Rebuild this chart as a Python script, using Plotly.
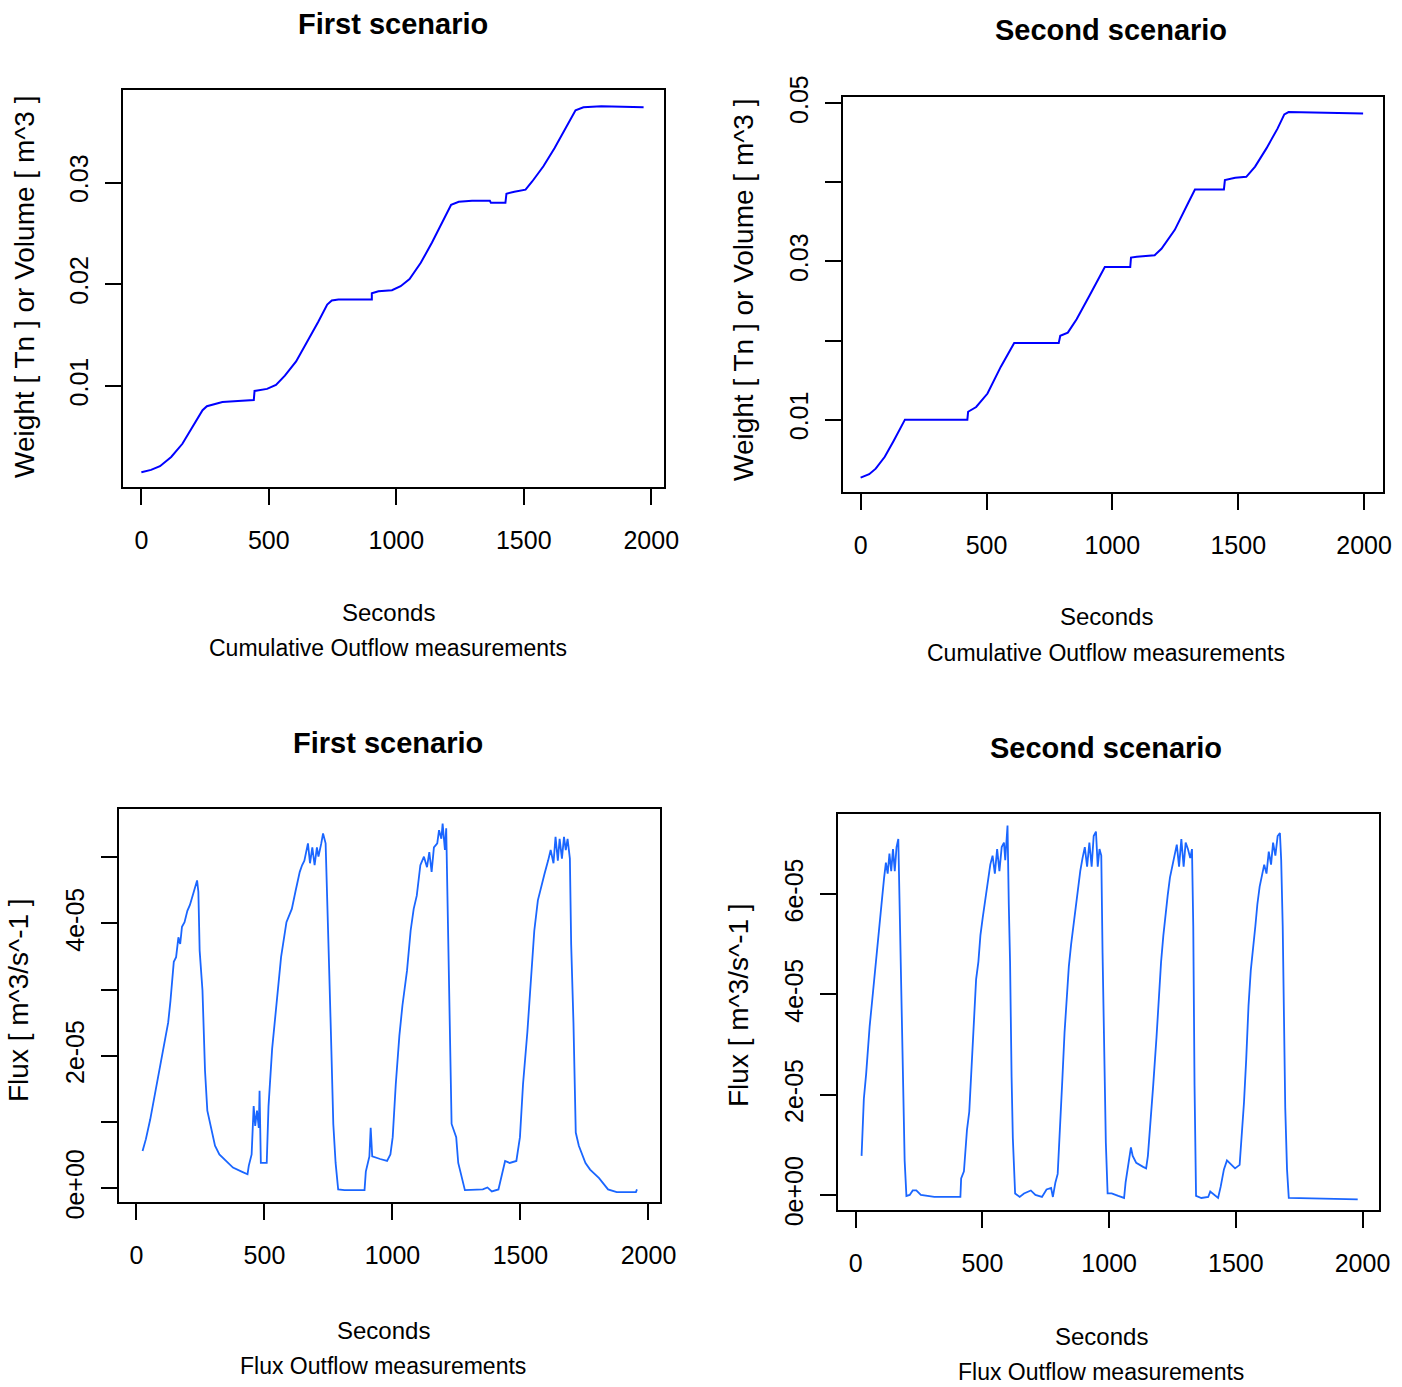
import plotly.graph_objects as go

# ---------------- data ----------------
# Panel 1: First scenario, cumulative outflow
cum1_t = [0, 38, 73, 117, 161, 204, 240, 257, 283, 318, 379, 441, 444, 493, 528, 563, 607, 650, 694,
          729, 747, 773, 904, 904, 930, 983, 1017, 1052, 1096, 1140, 1184, 1215, 1245, 1297, 1367, 1371,
          1428, 1432, 1463, 1507, 1533, 1577, 1621, 1664, 1703, 1734, 1804, 1970]
cum1_v = [0.0015, 0.00173, 0.0021, 0.0030, 0.0043, 0.0061, 0.0076, 0.0080, 0.0082, 0.0084, 0.0085,
          0.0086, 0.0095, 0.0097, 0.0101, 0.0110, 0.0124, 0.0143, 0.0163, 0.0180, 0.0184, 0.0185,
          0.0185, 0.0191, 0.0193, 0.0194, 0.0198, 0.0205, 0.0221, 0.0241, 0.0263, 0.0278, 0.0281,
          0.0282, 0.0282, 0.0280, 0.0280, 0.0289, 0.0291, 0.0293, 0.0301, 0.0316, 0.0334, 0.0354,
          0.0371, 0.0374, 0.0375, 0.0374]

# Panel 2: Second scenario, cumulative outflow
cum2_t = [0, 34, 60, 96, 131, 167, 176, 424, 427, 459, 504, 557, 610, 787, 793, 823, 858, 911, 970,
          1071, 1074, 1097, 1168, 1195, 1248, 1301, 1328, 1443, 1447, 1488, 1532, 1567, 1612, 1656,
          1683, 1700, 1996]
cum2_v = [0.00267, 0.0031, 0.0038, 0.0053, 0.0073, 0.0096, 0.0100, 0.0100, 0.0110, 0.0116, 0.0133,
          0.0167, 0.0197, 0.0197, 0.0206, 0.0210, 0.0227, 0.0258, 0.0293, 0.0293, 0.0305, 0.0306,
          0.0308, 0.0316, 0.0340, 0.0374, 0.0391, 0.0391, 0.0403, 0.0406, 0.0407, 0.0420, 0.0443,
          0.0468, 0.0486, 0.0489, 0.0487]

# Panel 3: First scenario, flux (units of 1e-05 m^3/s)
flux1_t = [24, 37, 54, 71, 89, 106, 124, 133, 146, 155, 164, 171, 178, 188, 199, 209, 216, 223, 230,
           237, 242, 247, 258, 268, 277, 289, 307, 324, 350, 377, 411, 434, 439, 450, 458, 464, 471,
           478, 481, 486, 509, 516, 530, 546, 565, 586, 607, 621, 638, 647, 656, 670, 678, 687, 696,
           705, 711, 722, 729, 739, 745, 753, 760, 769, 778, 788, 813, 891, 896, 910, 915, 921, 952,
           979, 992, 1001, 1013, 1027, 1039, 1057, 1071, 1083, 1095, 1109, 1123, 1135, 1144, 1153,
           1162, 1175, 1182, 1191, 1196, 1205, 1210, 1217, 1224, 1231, 1249, 1257, 1283, 1353, 1371,
           1388, 1414, 1432, 1440, 1458, 1484, 1498, 1510, 1527, 1541, 1554, 1568, 1580, 1594, 1608,
           1618, 1629, 1637, 1646, 1653, 1662, 1670, 1677, 1684, 1693, 1698, 1707, 1716, 1728, 1754,
           1772, 1807, 1842, 1876, 1951, 1955]
flux1_v = [0.56, 0.74, 1.04, 1.40, 1.74, 2.10, 2.50, 2.83, 3.42, 3.49, 3.79, 3.69, 3.95, 4.02, 4.19,
           4.28, 4.38, 4.48, 4.58, 4.65, 4.48, 3.59, 2.99, 1.77, 1.17, 0.94, 0.64, 0.51, 0.41, 0.31,
           0.25, 0.21, 0.34, 0.51, 1.24, 0.94, 1.17, 0.91, 1.47, 0.38, 0.38, 1.24, 2.10, 2.76, 3.49,
           4.02, 4.22, 4.48, 4.78, 4.88, 4.95, 5.21, 4.91, 5.15, 4.88, 5.15, 5.01, 5.21, 5.36, 5.21,
           4.22, 3.29, 2.30, 0.97, 0.38, -0.02, -0.03, -0.03, 0.25, 0.48, 0.91, 0.48, 0.44, 0.41,
           0.51, 0.77, 1.57, 2.30, 2.76, 3.29, 3.89, 4.22, 4.42, 4.88, 5.01, 4.85, 5.08, 4.78, 5.15,
           5.21, 5.41, 5.28, 5.51, 5.11, 5.44, 3.95, 2.89, 0.97, 0.77, 0.38, -0.03, -0.02, 0.01,
           -0.05, -0.02, 0.25, 0.41, 0.38, 0.41, 0.77, 1.57, 2.36, 3.16, 3.89, 4.35, 4.55, 4.75,
           4.95, 5.11, 4.91, 5.31, 4.95, 5.28, 4.98, 5.31, 5.11, 5.28, 4.98, 3.69, 2.50, 0.84, 0.64,
           0.38, 0.28, 0.15, -0.02, -0.06, -0.06, -0.02]

# Panel 4: Second scenario, flux (units of 1e-05 m^3/s)
flux2_t = [23, 27, 32, 41, 48, 55, 62, 71, 80, 89, 97, 105, 112, 119, 126, 133, 140, 147, 154, 161,
           168, 172, 177, 182, 188, 193, 200, 213, 225, 239, 257, 310, 413, 416, 427, 439, 448, 457,
           466, 475, 484, 492, 501, 512, 523, 531, 540, 549, 558, 567, 576, 585, 590, 599, 604, 609,
           615, 620, 629, 647, 664, 691, 709, 735, 753, 771, 778, 788, 797, 806, 815, 824, 833, 841,
           850, 859, 868, 877, 886, 895, 904, 913, 922, 931, 939, 948, 955, 962, 969, 974, 980, 987,
           994, 1010, 1036, 1059, 1065, 1075, 1086, 1093, 1107, 1134, 1146, 1153, 1160, 1174, 1187,
           1196, 1205, 1214, 1222, 1231, 1240, 1249, 1258, 1267, 1276, 1285, 1294, 1302, 1311, 1320,
           1327, 1332, 1337, 1343, 1364, 1391, 1399, 1417, 1430, 1440, 1453, 1465, 1479, 1497, 1515,
           1523, 1532, 1541, 1550, 1559, 1568, 1577, 1585, 1594, 1603, 1612, 1621, 1630, 1639, 1647,
           1656, 1665, 1674, 1679, 1685, 1690, 1695, 1702, 1709, 1981]
flux2_v = [0.78, 1.22, 1.92, 2.41, 2.98, 3.37, 3.73, 4.17, 4.61, 5.18, 5.49, 5.97, 6.33, 6.63, 6.41,
           6.81, 6.46, 6.90, 6.46, 6.94, 7.10, 6.06, 5.09, 3.51, 1.57, 0.69, -0.02, 0.00, 0.09, 0.09,
           0.00, -0.04, -0.04, 0.33, 0.47, 1.30, 1.66, 2.54, 3.42, 4.30, 4.65, 5.18, 5.53, 5.89, 6.33,
           6.59, 6.77, 6.41, 6.90, 6.46, 6.94, 7.03, 6.68, 7.37, 5.80, 4.65, 2.36, 1.13, 0.03, -0.04,
           0.03, 0.09, 0.00, -0.04, 0.11, 0.14, -0.04, 0.25, 0.42, 1.22, 2.27, 3.24, 3.95, 4.56, 5.00,
           5.36, 5.80, 6.15, 6.46, 6.72, 6.94, 6.55, 7.03, 6.55, 7.16, 7.25, 6.55, 6.90, 6.77, 4.83,
           3.07, 1.04, 0.03, 0.03, -0.02, -0.06, 0.25, 0.60, 0.95, 0.78, 0.64, 0.56, 0.53, 0.78, 1.22,
           2.19, 3.15, 3.95, 4.65, 5.18, 5.62, 5.97, 6.33, 6.55, 6.77, 6.99, 6.55, 7.10, 6.55, 7.03,
           6.90, 6.72, 6.90, 5.36, 2.19, -0.02, -0.06, -0.04, 0.07, 0.00, -0.06, 0.16, 0.51, 0.69,
           0.62, 0.53, 0.60, 1.13, 1.83, 2.71, 3.77, 4.48, 5.00, 5.36, 5.80, 6.15, 6.37, 6.59, 6.41,
           6.85, 6.59, 7.03, 6.77, 7.16, 7.22, 6.68, 5.36, 3.59, 1.74, 0.51, -0.06, -0.09]

x_ticks = [0, 500, 1000, 1500, 2000]
x_ticktext = ["0", "500", "1000", "1500", "2000"]
y1_ticks = [0.01, 0.02, 0.03]
y1_ticktext = ["0.01", "0.02", "0.03"]
y2_ticks = [0.01, 0.02, 0.03, 0.04, 0.05]
y2_ticktext = ["0.01", "", "0.03", "", "0.05"]
y3_ticks = [0, 1e-05, 2e-05, 3e-05, 4e-05, 5e-05]
y3_ticktext = ["0e+00", "", "2e-05", "", "4e-05", ""]
y4_ticks = [0, 2e-05, 4e-05, 6e-05]
y4_ticktext = ["0e+00", "2e-05", "4e-05", "6e-05"]

titles = ["First scenario", "Second scenario", "First scenario", "Second scenario"]
x_title = "Seconds"
subs = ["Cumulative Outflow measurements", "Cumulative Outflow measurements",
        "Flux Outflow measurements", "Flux Outflow measurements"]
y_titles = ["Weight [ Tn ] or Volume [ m^3 ]", "Weight [ Tn ] or Volume [ m^3 ]",
            "Flux [ m^3/s^-1 ]", "Flux [ m^3/s^-1 ]"]

# ---------------- figure ----------------
W, H = 1402, 1387
FONT = "Liberation Sans, Arial, sans-serif"

fig = go.Figure()
fig.add_trace(go.Scatter(x=cum1_t, y=cum1_v, mode="lines", line=dict(color="#0000FF", width=2),
                         xaxis="x", yaxis="y", showlegend=False))
fig.add_trace(go.Scatter(x=cum2_t, y=cum2_v, mode="lines", line=dict(color="#0000FF", width=2),
                         xaxis="x2", yaxis="y2", showlegend=False))
fig.add_trace(go.Scatter(x=flux1_t, y=[v * 1e-05 for v in flux1_v], mode="lines",
                         line=dict(color="#1A66FF", width=1.8), xaxis="x3", yaxis="y3",
                         showlegend=False))
fig.add_trace(go.Scatter(x=flux2_t, y=[v * 1e-05 for v in flux2_v], mode="lines",
                         line=dict(color="#1A66FF", width=1.8), xaxis="x4", yaxis="y4",
                         showlegend=False))

# plot boxes in pixels: (left, right, top, bottom)
boxes = [(123, 664, 90, 487), (843, 1383, 97, 492), (119, 660, 809, 1202), (838, 1379, 814, 1210)]
xranges = [[-72, 2050], [-70, 2075], [-68, 2045], [-70, 2065]]
yranges = [[0.00005, 0.0391], [0.00085, 0.0508], [-0.21e-05, 5.73e-05], [-0.3e-05, 7.6e-05]]
yticks = [(y1_ticks, y1_ticktext), (y2_ticks, y2_ticktext), (y3_ticks, y3_ticktext),
          (y4_ticks, y4_ticktext)]

common = dict(showline=True, linecolor="black", linewidth=2, mirror=True, showgrid=False,
              zeroline=False, ticks="outside", ticklen=16, tickwidth=2, tickcolor="black",
              automargin=False)

layout = dict(width=W, height=H, margin=dict(l=0, r=0, t=0, b=0, pad=0, autoexpand=False),
              paper_bgcolor="white", plot_bgcolor="white", showlegend=False, template="none")
for i, (l, r, t, b) in enumerate(boxes):
    sfx = "" if i == 0 else str(i + 1)
    layout["xaxis" + sfx] = dict(common, domain=[l / W, r / W], range=xranges[i],
                                 anchor="y" + sfx, tickvals=x_ticks, ticktext=x_ticktext,
                                 tickfont=dict(family=FONT, size=25, color="black"),
                                 ticklabelstandoff=14)
    layout["yaxis" + sfx] = dict(common, domain=[1 - b / H, 1 - t / H], range=yranges[i],
                                 anchor="x" + sfx, tickvals=yticks[i][0], ticktext=yticks[i][1],
                                 tickangle=-90,
                                 tickfont=dict(family=FONT, size=25, color="black"),
                                 ticklabelstandoff=7)
fig.update_layout(**layout)

# titles and labels as annotations (pixel positions)
title_pos = [(393, 24), (1111, 30), (388, 743), (1106, 748)]
xlab_pos = [(388, 612), (1106, 617), (383, 1330), (1101, 1336)]
sub_pos = [(388, 648), (1106, 653), (383, 1366), (1101, 1372)]
ylab_pos = [(24, 287), (743, 290), (18, 1000), (738, 1005)]

ann = []
for i in range(4):
    ann.append(dict(text="<b>" + titles[i] + "</b>", x=title_pos[i][0] / W, y=1 - title_pos[i][1] / H,
                    xref="paper", yref="paper", showarrow=False, xanchor="center", yanchor="middle",
                    font=dict(family=FONT, size=29, color="black")))
    ann.append(dict(text=x_title, x=xlab_pos[i][0] / W, y=1 - xlab_pos[i][1] / H,
                    xref="paper", yref="paper", showarrow=False, xanchor="center", yanchor="middle",
                    font=dict(family=FONT, size=24, color="black")))
    ann.append(dict(text=subs[i], x=sub_pos[i][0] / W, y=1 - sub_pos[i][1] / H,
                    xref="paper", yref="paper", showarrow=False, xanchor="center", yanchor="middle",
                    font=dict(family=FONT, size=23, color="black")))
    ann.append(dict(text=y_titles[i], x=ylab_pos[i][0] / W, y=1 - ylab_pos[i][1] / H,
                    xref="paper", yref="paper", showarrow=False, xanchor="center", yanchor="middle",
                    textangle=-90, font=dict(family=FONT, size=28, color="black")))
fig.update_layout(annotations=ann)

fig.write_html("out.html")
